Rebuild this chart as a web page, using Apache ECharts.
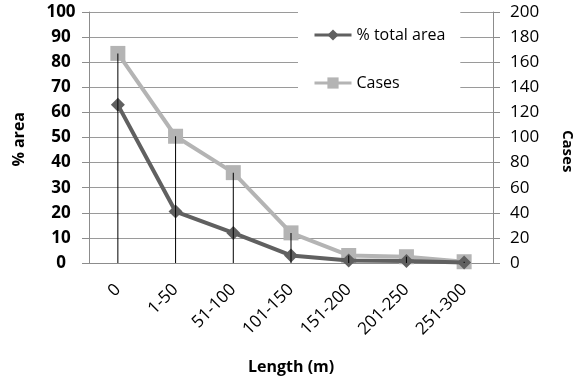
<!DOCTYPE html>
<html>
<head>
<meta charset="utf-8">
<script src="https://cdn.jsdelivr.net/npm/echarts@6/dist/echarts.min.js"></script>
<style>html,body{margin:0;padding:0;background:#fff}#c{width:580px;height:387px}</style>
</head>
<body>
<div id="c"></div>
<script>
var categories = ['0', '1-50', '51-100', '101-150', '151-200', '201-250', '251-300'];
var pctArea = [63, 20.5, 12, 3, 1, 0.8, 0.2];
var cases = [167, 101, 72, 24, 6, 5, 1];
var leftTicks = {min: 0, max: 100, interval: 10};
var rightTicks = {min: 0, max: 200, interval: 20};
var seriesNames = ['% total area', 'Cases'];

var chart = echarts.init(document.getElementById('c'), null, {renderer: 'canvas'});
var FONT = '"Open Sans", "Liberation Sans", sans-serif';
chart.setOption({
  animation: false,
  backgroundColor: '#fff',
  grid: {left: 89, right: 87, top: 12, bottom: 124, containLabel: false},
  legend: {
    data: seriesNames,
    orient: 'vertical',
    left: 298, top: 5,
    padding: [22, 15, 9, 15],
    itemGap: 32,
    itemWidth: 37, itemHeight: 14,
    backgroundColor: '#fff',
    lineStyle: {width: 3},
    textStyle: {fontFamily: FONT, fontSize: 16, color: '#000', lineHeight: 16}
  },
  xAxis: {
    type: 'category',
    data: categories,
    boundaryGap: true,
    axisLine: {lineStyle: {color: '#8c8c8c', width: 1}},
    axisTick: {show: false},
    axisLabel: {rotate: 45, margin: 24, fontFamily: FONT, fontSize: 17, color: '#000', interval: 0}
  },
  yAxis: [{
    type: 'value',
    min: leftTicks.min, max: leftTicks.max, interval: leftTicks.interval,
    axisLine: {show: true, lineStyle: {color: '#8c8c8c'}},
    axisTick: {show: true, length: 7, lineStyle: {color: '#8c8c8c'}},
    splitLine: {lineStyle: {color: '#9a9a9a', width: 1}},
    axisLabel: {align: 'center', margin: 28, fontFamily: FONT, fontWeight: 'bold', fontSize: 17, color: '#000'}
  }, {
    type: 'value',
    position: 'right',
    min: rightTicks.min, max: rightTicks.max, interval: rightTicks.interval,
    axisLine: {show: true, lineStyle: {color: '#8c8c8c'}},
    axisTick: {show: true, length: 7, lineStyle: {color: '#8c8c8c'}},
    splitLine: {show: false},
    axisLabel: {align: 'left', margin: 17, fontFamily: FONT, fontSize: 17, color: '#000'}
  }],
  graphic: [
    {type: 'text', left: 11, top: 112, rotation: Math.PI / 2,
     style: {text: '% area', font: 'bold 16px ' + FONT, fill: '#000'}},
    {type: 'text', left: 560, top: 130, rotation: -Math.PI / 2,
     style: {text: 'Cases', font: 'bold 15px ' + FONT, fill: '#000'}},
    {type: 'text', left: 248, top: 359,
     style: {text: 'Length (m)', font: 'bold 16px ' + FONT, fill: '#000'}}
  ],
  series: [{
    name: seriesNames[0],
    type: 'line',
    data: pctArea,
    yAxisIndex: 0,
    symbol: 'diamond', symbolSize: 14,
    lineStyle: {color: '#606060', width: 4},
    itemStyle: {color: '#606060'},
    z: 3
  }, {
    name: seriesNames[1],
    type: 'line',
    data: cases,
    yAxisIndex: 1,
    symbol: 'rect', symbolSize: 15,
    lineStyle: {color: '#b4b4b4', width: 4},
    itemStyle: {color: '#b4b4b4'},
    z: 2
  }, {
    name: 'drop',
    type: 'bar',
    data: cases,
    yAxisIndex: 1,
    barWidth: 1,
    itemStyle: {color: '#000'},
    z: 5,
    silent: true
  }]
});
</script>
</body>
</html>
